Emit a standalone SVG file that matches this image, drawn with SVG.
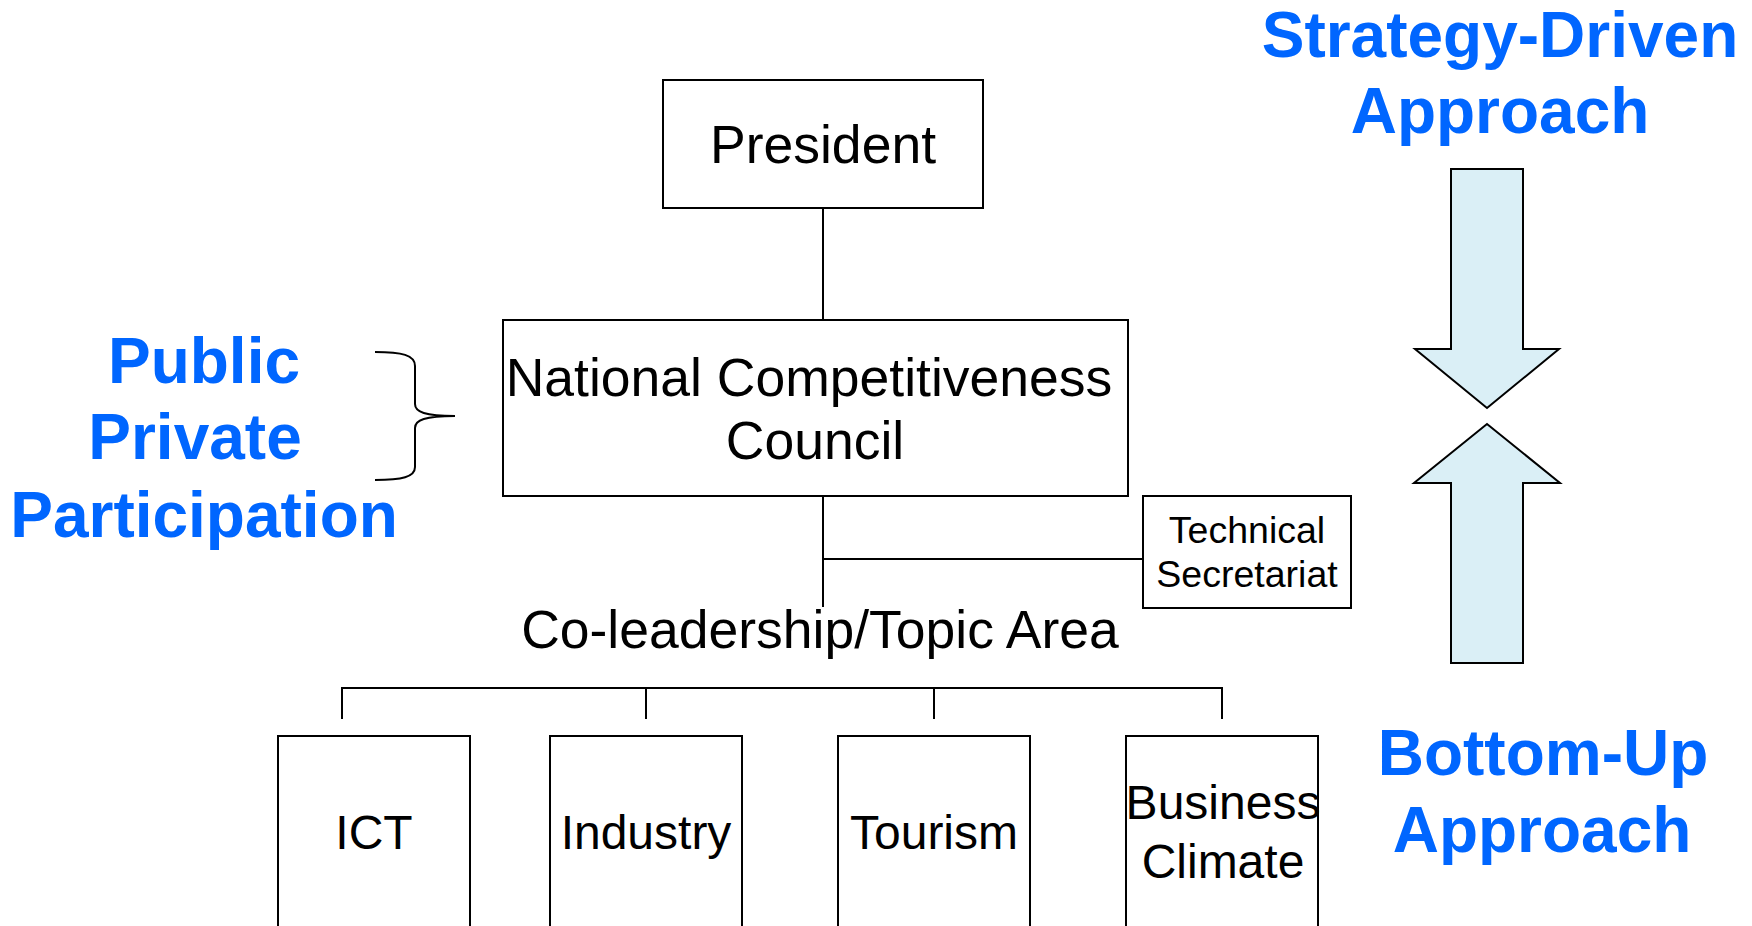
<svg xmlns="http://www.w3.org/2000/svg" width="1752" height="926" viewBox="0 0 1752 926">
  <style>
    .box { fill: #ffffff; stroke: #000000; stroke-width: 2; }
    .line { fill: none; stroke: #000000; stroke-width: 2; }
    .lbl { font-family: "Liberation Sans", Arial, sans-serif; fill: #000000; text-anchor: middle; }
    .big { font-size: 53.5px; }
    .mid { font-size: 48px; }
    .small { font-size: 37.5px; }
    .blue { font-family: "Liberation Sans", Arial, sans-serif; font-weight: bold; font-size: 64px; fill: #0066FF; text-anchor: middle; }
    .arrow { fill: #DAEFF6; stroke: #000000; stroke-width: 2; stroke-linejoin: miter; }
  </style>
  <rect width="1752" height="926" fill="#ffffff"/>

  <!-- connectors -->
  <g id="connectors">
    <line class="line" x1="823" y1="208" x2="823" y2="320"/>
    <line class="line" x1="823" y1="496" x2="823" y2="607"/>
    <line class="line" x1="823" y1="559" x2="1143" y2="559"/>
    <line class="line" x1="342" y1="688" x2="1222" y2="688"/>
    <line class="line" x1="342" y1="687" x2="342" y2="719"/>
    <line class="line" x1="646" y1="688" x2="646" y2="719"/>
    <line class="line" x1="934" y1="688" x2="934" y2="719"/>
    <line class="line" x1="1222" y1="687" x2="1222" y2="719"/>
  </g>

  <g id="president">
    <rect class="box" x="663" y="80" width="320" height="128"/>
    <text class="lbl big" x="823" y="163">President</text>
  </g>

  <g id="council">
    <rect class="box" x="503" y="320" width="625" height="176"/>
    <text class="lbl big" x="809" y="396">National Competitiveness</text>
    <text class="lbl big" x="815" y="459">Council</text>
  </g>

  <g id="secretariat">
    <rect class="box" x="1143" y="496" width="208" height="112"/>
    <text class="lbl small" x="1247" y="543">Technical</text>
    <text class="lbl small" x="1247" y="587">Secretariat</text>
  </g>

  <g id="topic-area">
    <text class="lbl big" x="820" y="648">Co-leadership/Topic Area</text>
  </g>

  <g id="ict">
    <rect class="box" x="278" y="736" width="192" height="210"/>
    <text class="lbl mid" x="374" y="849">ICT</text>
  </g>
  <g id="industry">
    <rect class="box" x="550" y="736" width="192" height="210"/>
    <text class="lbl mid" x="646" y="849">Industry</text>
  </g>
  <g id="tourism">
    <rect class="box" x="838" y="736" width="192" height="210"/>
    <text class="lbl mid" x="934" y="849">Tourism</text>
  </g>
  <g id="business-climate">
    <rect class="box" x="1126" y="736" width="192" height="210"/>
    <text class="lbl mid" x="1223" y="819">Business</text>
    <text class="lbl mid" x="1223" y="878">Climate</text>
  </g>

  <!-- left annotation with brace -->
  <g id="public-private">
    <text class="blue" x="204" y="383">Public</text>
    <text class="blue" x="195" y="459">Private</text>
    <text class="blue" x="204" y="537">Participation</text>
    <path class="line" d="M375,352 C402,352 415,355 415,366 L415,404 C415,412 425,416 455,416 C425,416 415,420 415,428 L415,467 C415,477 402,480 375,480"/>
  </g>

  <!-- right annotation with arrows -->
  <g id="strategy-driven">
    <text class="blue" x="1500" y="57">Strategy-Driven</text>
    <text class="blue" x="1500" y="133">Approach</text>
    <path class="arrow" d="M1451,169 L1523,169 L1523,349 L1559,349 L1487,408 L1415,349 L1451,349 Z"/>
  </g>
  <g id="bottom-up">
    <path class="arrow" d="M1487,424 L1560,483 L1523,483 L1523,663 L1451,663 L1451,483 L1414,483 Z"/>
    <text class="blue" x="1543" y="775">Bottom-Up</text>
    <text class="blue" x="1542" y="852">Approach</text>
  </g>
</svg>
